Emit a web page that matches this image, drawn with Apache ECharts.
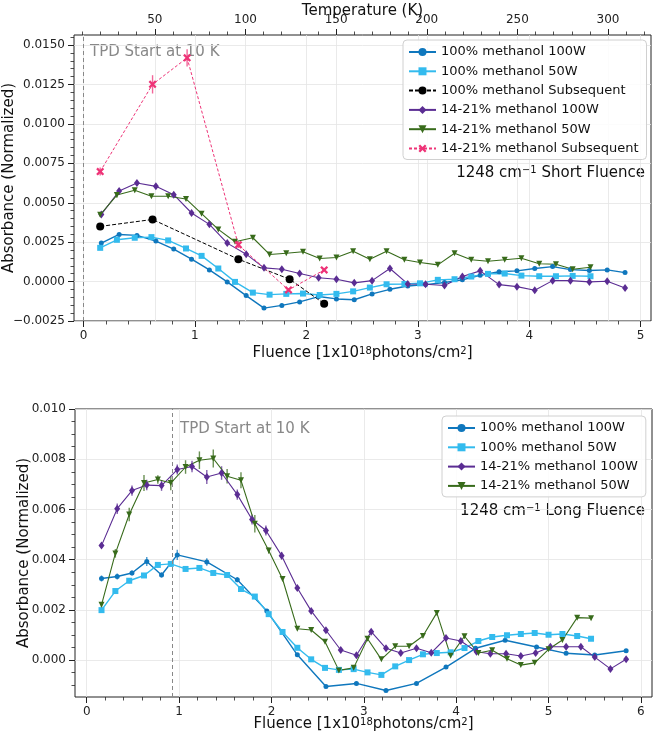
<!DOCTYPE html>
<html>
<head>
<meta charset="utf-8">
<script src="https://cdn.jsdelivr.net/npm/echarts@6/dist/echarts.min.js"></script>
<style>
  html, body { margin: 0; padding: 0; background: #fff; }
  #chart { width: 653px; height: 737px; }
</style>
</head>
<body>
<div id="chart"></div>
<script>
// ---- short fluence (top panel) ----
const fluenceS100 = [0.16, 0.32, 0.48, 0.65, 0.81, 0.97, 1.13, 1.29, 1.46, 1.62, 1.78, 1.94, 2.11, 2.27, 2.43,
  2.59, 2.75, 2.91, 3.07, 3.24, 3.40, 3.56, 3.73, 3.89, 4.05, 4.21, 4.37, 4.54, 4.70, 4.86];
const fluenceS50 = [0.15, 0.30, 0.46, 0.61, 0.76, 0.92, 1.06, 1.21, 1.36, 1.52, 1.67, 1.82, 1.97, 2.12, 2.27,
  2.42, 2.57, 2.72, 2.88, 3.02, 3.18, 3.33, 3.48, 3.63, 3.78, 3.93, 4.09, 4.24, 4.39, 4.55];
const fluenceSubBlack = [0.15, 0.62, 1.39, 1.85, 2.16];
const fluenceSubPink = [0.15, 0.62, 0.93, 1.39, 1.84, 2.16];

const shortMeth100 = [0.00244, 0.00299, 0.00293, 0.00257, 0.00206, 0.00142, 0.00074, -0.00002, -0.00089, -0.00168,
  -0.00151, -0.00129, -0.00095, -0.0011, -0.00115, -0.00078, -0.00049, -0.00028, -0.00019, -0.00006,
  0.00011, 0.0004, 0.00062, 0.00068, 0.00083, 0.00095, 0.00076, 0.0007, 0.00074, 0.00057];
const shortMeth50 = [0.00214, 0.00265, 0.00278, 0.00282, 0.00261, 0.0021, 0.00163, 0.00083, -0.00002, -0.0007,
  -0.00083, -0.00078, -0.00076, -0.00085, -0.00078, -0.00062, -0.00038, -0.00017, -0.00015, -0.00011,
  0.00011, 0.00015, 0.00032, 0.00049, 0.00051, 0.00038, 0.00034, 0.00034, 0.00036, 0.00034];
const shortMethSub = [0.0035, 0.00394, 0.00142, 0.00015, -0.0014];
const shortMix100 = [0.00426, 0.00574, 0.00625, 0.00604, 0.00551, 0.00435, 0.00363, 0.00244, 0.00174, 0.00087,
  0.00078, 0.00051, 0.00024, 0.00015, -0.00008, 0.00006, 0.00083, -0.00015, -0.00017, -0.00025,
  0.00032, 0.00068, -0.00019, -0.00032, -0.00055, 0.00006, 0.00006, -0.00002, 0.00002, -0.0004];
const shortMix50 = [0.00424, 0.00549, 0.00579, 0.00541, 0.00541, 0.00524, 0.00431, 0.00331, 0.00253, 0.00278,
  0.00172, 0.0018, 0.00189, 0.00146, 0.00153, 0.00193, 0.00142, 0.00193, 0.00138, 0.00121,
  0.00106, 0.0018, 0.00138, 0.00129, 0.00138, 0.00148, 0.00113, 0.0011, 0.00078, 0.00091];
const shortMixSub = [0.00698, 0.01251, 0.01419, 0.00233, -0.00053, 0.00074];

// error bars (only the first points have visible ones)
const errShortMix100 = [0.00012, 0.00015, 0.00012, 0.0001, 0.0001];
const errShortMix50 = [0.0001, 0.00015, 0.00012, 0.0001, 0.0001, 0.0001];
const errShortMixSub = [0.00025, 0.00058, 0.00055, 0.0002, 0.0001, 0.0001];

// ---- long fluence (bottom panel) ----
const fluenceL100 = [0.16, 0.33, 0.49, 0.65, 0.81, 0.98, 1.30, 1.63, 1.95, 2.28, 2.59, 2.92, 3.24, 3.57, 3.89,
  4.21, 4.53, 4.87, 5.19, 5.50, 5.84];
const fluenceL50 = [0.16, 0.31, 0.46, 0.62, 0.77, 0.91, 1.07, 1.22, 1.37, 1.52, 1.67, 1.82, 1.97, 2.12, 2.28,
  2.43, 2.58, 2.73, 2.89, 3.04, 3.19, 3.34, 3.49, 3.64, 3.79, 3.94, 4.09, 4.24, 4.39, 4.55,
  4.70, 4.85, 5.00, 5.15, 5.31, 5.46];
const fluenceLMix100 = [0.16, 0.33, 0.49, 0.65, 0.81, 0.98, 1.14, 1.30, 1.46, 1.63, 1.79, 1.94, 2.11, 2.28, 2.43,
  2.59, 2.75, 2.92, 3.08, 3.24, 3.40, 3.57, 3.73, 3.89, 4.05, 4.22, 4.37, 4.54, 4.70, 4.86,
  5.02, 5.19, 5.35, 5.50, 5.67, 5.84];

const longMeth100 = [0.00325, 0.00333, 0.00347, 0.00393, 0.00339, 0.00419, 0.00391, 0.0032, 0.00196, 0.00021,
  -0.00105, -0.00093, -0.00121, -0.00093, -0.00028, 0.00047, 0.00079, 0.00052, 0.00027, 0.0002, 0.00037];
const longMeth50 = [0.00199, 0.00275, 0.00316, 0.00337, 0.00379, 0.00383, 0.00363, 0.00367, 0.00347, 0.00339,
  0.00283, 0.00253, 0.00183, 0.00112, 0.00049, 0.00003, -0.00031, -0.00039, -0.00036, -0.00049,
  -0.00059, -0.00025, 0.0, 0.00023, 0.00028, 0.00031, 0.00048, 0.00076, 0.00092, 0.00099,
  0.00104, 0.00108, 0.00101, 0.00104, 0.00096, 0.00085];
const longMix100 = [0.00456, 0.00603, 0.00675, 0.00697, 0.00695, 0.00759, 0.00771, 0.00729, 0.00745, 0.00659,
  0.0056, 0.00516, 0.00416, 0.00287, 0.00196, 0.00119, 0.0004, 0.00019, 0.00113, 0.00047,
  0.00028, 0.00047, 0.00029, 0.00088, 0.00076, 0.00033, 0.00025, 0.00025, 0.00016, 0.00028,
  0.00053, 0.00053, 0.00053, 0.00012, -0.00035, 0.00003];
const longMix50 = [0.0022, 0.00425, 0.0058, 0.00705, 0.00719, 0.00705, 0.00769, 0.00796, 0.00803, 0.00732,
  0.00716, 0.00543, 0.00436, 0.00323, 0.00125, 0.0012, 0.00073, -0.00041, -0.00031, 0.00085,
  0.00003, 0.00055, 0.00055, 0.00096, 0.00188, 0.00017, 0.00095, 0.00028, 0.00039, 0.00005,
  -0.0002, -0.00011, 0.00043, 0.0008, 0.00169, 0.00167];

const errLongMeth100 = [0.00012, 0.00012, 0.0001, 0.00018, 0.0001, 0.0002, 0.00015, 0.0001];
const errLongMeth50 = [0.00008, 0.0001, 0.0001, 0.0001, 0.0001, 0.0001, 0.0001, 0.0001, 0.0001, 0.0001];
const errLongMix100 = [0.0001, 0.00021, 0.0002, 0.00021, 0.00021, 0.0002, 0.00023, 0.00028, 0.00027, 0.0002,
  0.0002, 0.0002, 0.00015];
const errLongMix50 = [0.0001, 0.00017, 0.00027, 0.00032, 0.00017, 0.00029, 0.00027, 0.00035, 0.00036, 0.00029,
  0.00032, 0.00035, 0.00012];

// TPD start markers (fluence)
const tpdTop = 0;
const tpdBottom = 0.93;

// ticks / labels
const fluenceTicksTop = [0, 1, 2, 3, 4, 5];
const fluenceTicksBottom = [0, 1, 2, 3, 4, 5, 6];
const tempTicks = [50, 100, 150, 200, 250, 300];
const yTicksTop = [-0.0025, 0, 0.0025, 0.005, 0.0075, 0.01, 0.0125, 0.015];
const yTicksBottom = [0, 0.002, 0.004, 0.006, 0.008, 0.01];

const legendTop = ['100% methanol 100W', '100% methanol 50W', '100% methanol Subsequent',
  '14-21% methanol 100W', '14-21% methanol 50W', '14-21% methanol Subsequent'];
const legendBottom = ['100% methanol 100W', '100% methanol 50W', '14-21% methanol 100W', '14-21% methanol 50W'];

const FONT = 'DejaVu Sans';
const INK = '#222';
const C = {
  blue: '#0f77bd',
  light: '#33bbee',
  black: '#000000',
  purple: '#5b2d93',
  green: '#386b1b',
  pink: '#ee3377'
};
const X_MARK = 'path://M-1,-0.6L-0.6,-1L0,-0.4L0.6,-1L1,-0.6L0.4,0L1,0.6L0.6,1L0,0.4L-0.6,1L-1,0.6L-0.4,0Z';

function steps(a, b, d) {
  const out = [];
  for (let v = a; v <= b + d / 1000; v += d) out.push(Math.round(v * 1e6) / 1e6);
  return out;
}

function majorAxis(grid, pos, min, max, ticks, fmt, extra) {
  return Object.assign({
    type: 'value', gridIndex: grid, position: pos, min: min, max: max,
    nameMoveOverlap: false,
    axisLine: { show: false, onZero: false },
    axisTick: { show: true, inside: false, length: 6, customValues: ticks, lineStyle: { color: INK, width: 1 } },
    axisLabel: { customValues: ticks, formatter: fmt, fontFamily: FONT, fontSize: 12, color: INK, margin: 9 },
    splitLine: { show: true, lineStyle: { color: '#e4e4e4', width: 0.8 } },
    nameTextStyle: {
      fontFamily: FONT, fontSize: 15, color: '#111',
      rich: { sup: { fontFamily: FONT, fontSize: 10, verticalAlign: 'top', color: '#111' } }
    }
  }, extra || {});
}

function minorAxis(grid, pos, min, max, ticks) {
  return {
    type: 'value', gridIndex: grid, position: pos, min: min, max: max,
    axisLine: { show: false, onZero: false },
    axisTick: { show: true, inside: false, length: 3.5, customValues: ticks, lineStyle: { color: INK, width: 0.8 } },
    axisLabel: { show: false },
    splitLine: { show: false }
  };
}

const fmtTopY = v => (v < 0 ? '\u2212' : '') + Math.abs(v).toFixed(4);
const fmtBotY = v => (v < 0 ? '\u2212' : '') + Math.abs(v).toFixed(3);
const fmtInt = v => String(Math.round(v));

const fluenceName = 'Fluence [1x10{sup|18}photons/cm{sup|2}]';

const xAxes = [
  majorAxis(0, 'bottom', -0.085, 5.093, fluenceTicksTop, fmtInt,
    { name: fluenceName, nameLocation: 'middle', nameGap: 25 }),
  minorAxis(0, 'bottom', -0.085, 5.093, steps(0, 5, 0.2)),
  majorAxis(0, 'top', 5.4, 323.7, tempTicks, fmtInt,
    { name: 'Temperature (K)', nameLocation: 'middle', nameGap: 16 }),
  minorAxis(0, 'top', 5.4, 323.7, steps(10, 320, 10)),
  majorAxis(1, 'bottom', -0.127, 6.12, fluenceTicksBottom, fmtInt,
    { name: fluenceName, nameLocation: 'middle', nameGap: 20 }),
  minorAxis(1, 'bottom', -0.127, 6.12, steps(0, 6, 0.2))
];
const yAxes = [
  majorAxis(0, 'left', -0.0025, 0.01564, yTicksTop, fmtTopY,
    { name: 'Absorbance (Normalized)', nameLocation: 'middle', nameGap: 57 }),
  minorAxis(0, 'left', -0.0025, 0.01564, steps(-0.0025, 0.0155, 0.0005)),
  majorAxis(1, 'left', -0.00147, 0.01, yTicksBottom, fmtBotY,
    { name: 'Absorbance (Normalized)', nameLocation: 'middle', nameGap: 43 }),
  minorAxis(1, 'left', -0.00147, 0.01, steps(-0.001, 0.01, 0.0005))
];

function line(name, xs, ys, st, grid, extra) {
  return Object.assign({
    type: 'line', name: name,
    xAxisIndex: grid === 0 ? 0 : 4, yAxisIndex: grid === 0 ? 0 : 2,
    data: xs.map((x, i) => [x, ys[i]]),
    symbol: st.symbol, symbolSize: st.size, symbolRotate: st.rotate || 0,
    showSymbol: true, showAllSymbol: true,
    lineStyle: { color: st.color, width: st.width || 1.2, type: st.dash || 'solid' },
    itemStyle: { color: st.color },
    emphasis: { disabled: true },
    animation: false
  }, extra || {});
}

function errBars(xs, ys, errs, color, grid) {
  return {
    type: 'custom',
    xAxisIndex: grid === 0 ? 0 : 4, yAxisIndex: grid === 0 ? 0 : 2,
    data: errs.map((e, i) => [xs[i], ys[i], e]),
    encode: { x: 0, y: 1 },
    silent: true, animation: false,
    renderItem: function (params, api) {
      const x = api.value(0), y = api.value(1), e = api.value(2);
      const p1 = api.coord([x, y - e]);
      const p2 = api.coord([x, y + e]);
      return {
        type: 'line',
        shape: { x1: p1[0], y1: p1[1], x2: p2[0], y2: p2[1] },
        style: { stroke: color, lineWidth: 1.4, opacity: 0.75 }
      };
    }
  };
}

const S = {
  m100: { color: C.blue, symbol: 'circle', size: 5, width: 1.4 },
  m50: { color: C.light, symbol: 'rect', size: 6, width: 1.4 },
  mSub: { color: C.black, symbol: 'circle', size: 8, width: 1, dash: [4, 2] },
  x100: { color: C.purple, symbol: 'diamond', size: [6, 8], width: 1.1 },
  x50: { color: C.green, symbol: 'triangle', size: 6, rotate: 180, width: 1.1 },
  xSub: { color: C.pink, symbol: X_MARK, size: 8, width: 1, dash: [3, 2] }
};

const vline = v => ({
  silent: true, symbol: 'none', animation: false,
  label: { show: false },
  lineStyle: { color: '#888', type: [4, 3], width: 1 },
  data: [{ xAxis: v }]
});

const series = [
  line(legendTop[0], fluenceS100, shortMeth100, S.m100, 0, { markLine: vline(tpdTop) }),
  line(legendTop[1], fluenceS50, shortMeth50, S.m50, 0),
  line(legendTop[2], fluenceSubBlack, shortMethSub, S.mSub, 0),
  errBars(fluenceS100, shortMix100, errShortMix100, C.purple, 0),
  line(legendTop[3], fluenceS100, shortMix100, S.x100, 0),
  errBars(fluenceS50, shortMix50, errShortMix50, C.green, 0),
  line(legendTop[4], fluenceS50, shortMix50, S.x50, 0),
  errBars(fluenceSubPink, shortMixSub, errShortMixSub, C.pink, 0),
  line(legendTop[5], fluenceSubPink, shortMixSub, S.xSub, 0),

  errBars(fluenceL100, longMeth100, errLongMeth100, C.blue, 1),
  line(legendBottom[0], fluenceL100, longMeth100, S.m100, 1, { markLine: vline(tpdBottom) }),
  errBars(fluenceL50, longMeth50, errLongMeth50, C.light, 1),
  line(legendBottom[1], fluenceL50, longMeth50, S.m50, 1),
  errBars(fluenceLMix100, longMix100, errLongMix100, C.purple, 1),
  line(legendBottom[2], fluenceLMix100, longMix100, S.x100, 1),
  errBars(fluenceL50, longMix50, errLongMix50, C.green, 1),
  line(legendBottom[3], fluenceL50, longMix50, S.x50, 1)
];

const legendBase = {
  orient: 'vertical', itemWidth: 27, itemHeight: 10, itemGap: 5.3,
  backgroundColor: 'rgba(255,255,255,0.85)', borderColor: '#d0d0d0', borderWidth: 1, borderRadius: 4,
  padding: [5, 8, 4, 5],
  textStyle: { fontFamily: FONT, fontSize: 13, color: '#111', lineHeight: 14 },
  selectedMode: false
};

const supRich = { sup: { fontFamily: FONT, fontSize: 10, verticalAlign: 'top', fill: '#111' } };

const chart = echarts.init(document.getElementById('chart'), null, { renderer: 'canvas' });
chart.setOption({
  backgroundColor: '#fff',
  animation: false,
  grid: [
    { left: 74, top: 35, width: 577, height: 286, show: true, borderColor: INK, borderWidth: 1,
      containLabel: false, outerBoundsMode: 'none' },
    { left: 75, top: 409, width: 577, height: 288, show: true, borderColor: INK, borderWidth: 1,
      containLabel: false, outerBoundsMode: 'none' }
  ],
  xAxis: xAxes,
  yAxis: yAxes,
  legend: [
    Object.assign({ left: 403, top: 40, data: legendTop }, legendBase),
    Object.assign({ left: 442, top: 416, data: legendBottom }, legendBase)
  ],
  graphic: [
    { type: 'text', x: 90, y: 52, silent: true,
      style: { text: 'TPD Start at 10 K', fontFamily: FONT, fontSize: 15, fill: '#888', verticalAlign: 'middle' } },
    { type: 'text', x: 180, y: 429, silent: true,
      style: { text: 'TPD Start at 10 K', fontFamily: FONT, fontSize: 15, fill: '#888', verticalAlign: 'middle' } },
    { type: 'text', x: 645, y: 173, silent: true,
      style: { text: '1248 cm{sup|\u22121} Short Fluence', rich: supRich, fontFamily: FONT, fontSize: 15,
        fill: '#111', align: 'right', verticalAlign: 'middle' } },
    { type: 'text', x: 645, y: 511, silent: true,
      style: { text: '1248 cm{sup|\u22121} Long Fluence', rich: supRich, fontFamily: FONT, fontSize: 15,
        fill: '#111', align: 'right', verticalAlign: 'middle' } }
  ],
  series: series
});
</script>
</body>
</html>
